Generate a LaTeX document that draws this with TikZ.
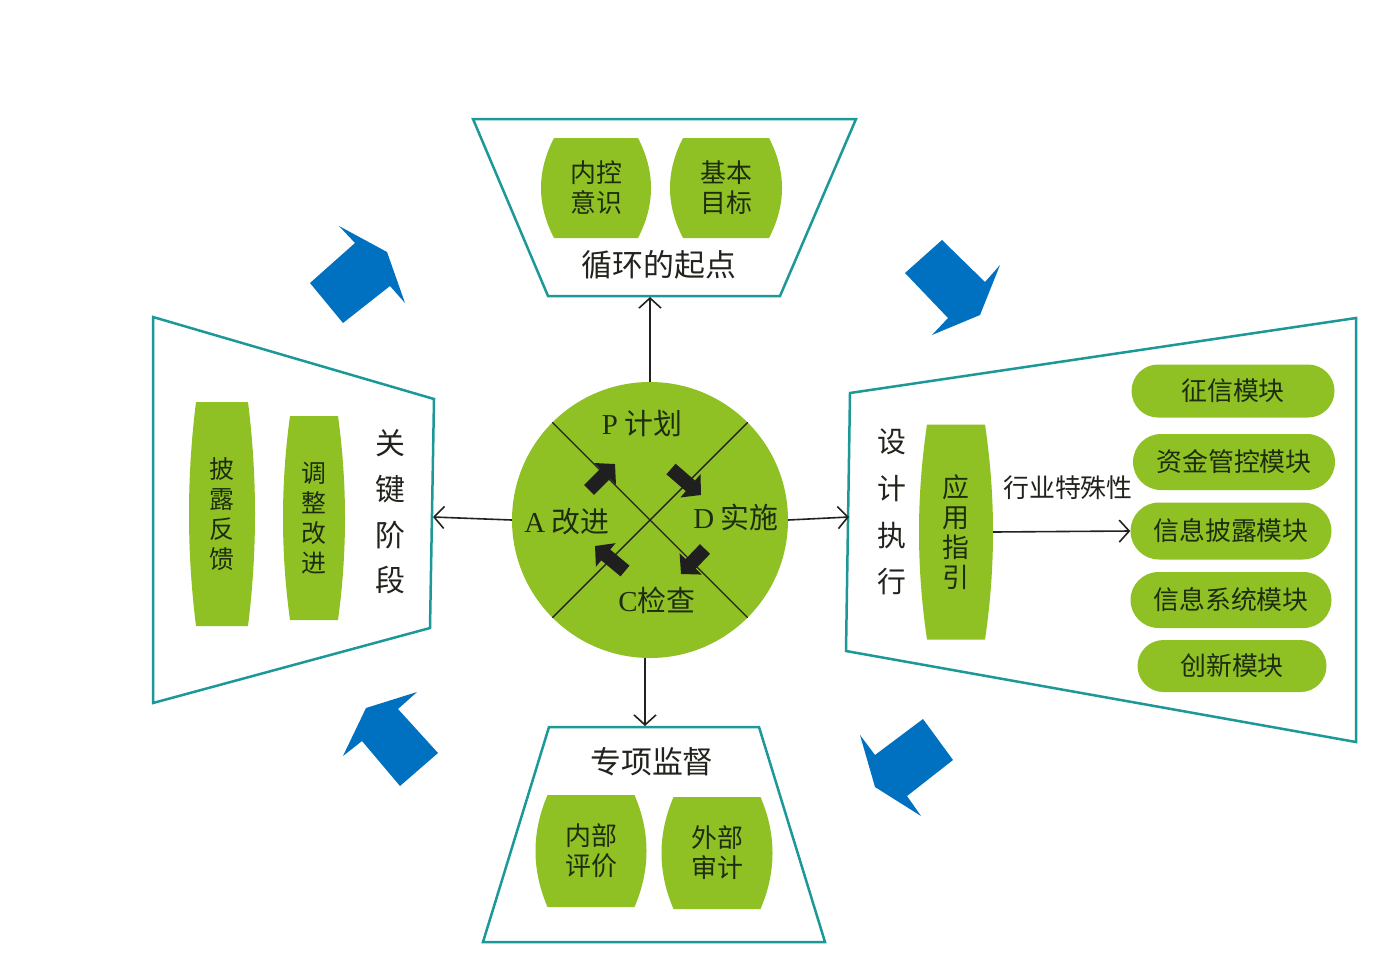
\documentclass[tikz,border=0pt]{standalone}
\usepackage{fontspec}
\setmainfont{Liberation Serif}
\newfontfamily\cjk{Noto Sans CJK SC}
\usetikzlibrary{shapes.misc,arrows.meta}
\definecolor{leaf}{RGB}{143,193,36}
\definecolor{teal2}{RGB}{28,152,152}
\definecolor{blueA}{RGB}{0,112,192}
\definecolor{ink}{RGB}{35,35,30}
\definecolor{ink2}{RGB}{30,45,15}
% #1 name, #2 cx, #3 cy, #4 w, #5 h, #6 bulge, #7 font size, #8 baselineskip, #9 text
\newcommand{\greenbarrel}[9]{%
  \fill[leaf] ({#2-#4/2+#6},{#3-#5/2}) -- ({#2+#4/2-#6},{#3-#5/2})
    .. controls ({#2+#4/2+#6/3},{#3-#5/6}) and ({#2+#4/2+#6/3},{#3+#5/6}) .. ({#2+#4/2-#6},{#3+#5/2})
    -- ({#2-#4/2+#6},{#3+#5/2})
    .. controls ({#2-#4/2-#6/3},{#3+#5/6}) and ({#2-#4/2-#6/3},{#3-#5/6}) .. cycle;
  \node[barreltext,minimum width=#4bp,minimum height=#5bp,font=\cjk\fontsize{#7}{#8}\selectfont] (#1) at (#2,#3) {#9};
}
\begin{document}
\begin{tikzpicture}[x=1bp,y=-1bp,
  trap/.style={draw=teal2,line width=2.5bp,line join=miter},
  barreltext/.style={inner sep=0pt,text=ink2,align=center},
  pill/.style={shape=rounded rectangle,fill=leaf,inner sep=0pt,text=ink2,font=\cjk\fontsize{26}{30}\selectfont},
  conn/.style={draw=ink,line width=1.6bp,-{Straight Barb[length=10bp,width=22bp]}},
  fat/.style={draw=black!88,line width=14bp,-{Triangle[length=14bp,width=30bp]}},
  blk/.style={fill=blueA},
  lbl/.style={text=ink,font=\cjk\fontsize{31}{36}\selectfont,align=center},
  vlbl/.style={text=ink,align=center},
  clbl/.style={text=ink2,font=\cjk\fontsize{29}{34}\selectfont},
]
\useasboundingbox (0,0) rectangle (1387,955);
\fill[white] (0,0) rectangle (1387,955);

% trapezoids
\draw[trap] (473,119) -- (856,119) -- (780,296) -- (548,296) -- cycle;
\draw[trap] (153,317) -- (434,399) -- (430,628) -- (153,703) -- cycle;
\draw[trap] (850,393) -- (1356,318) -- (1356,742) -- (846,651) -- cycle;
\draw[trap] (549,727) -- (759,727) -- (825,942) -- (483,942) -- cycle;
\coordinate (topB) at (650,297);
\coordinate (leftB) at (433,517);
\coordinate (rightB) at (849,517);
\coordinate (botB) at (645,726);

% blue block arrows
\fill[blk] (310,283) -- (355,243) -- (339,226) -- (387,252) -- (405,303) -- (390,286) -- (343,323) -- cycle;
\fill[blk] (905,273) -- (942,240) -- (985,282) -- (1000,265) -- (980,315) -- (932,335) -- (948,318) -- cycle;
\fill[blk] (343,756) -- (366,708) -- (417,692) -- (398,709) -- (438,753) -- (400,786) -- (362,741) -- cycle;
\fill[blk] (860,735) -- (875,755) -- (923,719) -- (953,760) -- (907,796) -- (921,816) -- (875,787) -- cycle;

% central circle
\node[circle,fill=leaf,minimum size=276bp,inner sep=0pt] (cyc) at (650,520) {};
\draw[ink,line width=1.4bp] (cyc.north west) -- (cyc.south east);
\draw[ink,line width=1.4bp] (cyc.north east) -- (cyc.south west);
\draw[fat] (589,490) -- (615,464);
\draw[fat] (671,469) -- (701,495);
\draw[fat] (705,549) -- (681,574);
\draw[fat] (625,571) -- (595,546);
\node[clbl] (pp) at (642,424) {{\rmfamily P} 计划};
\node[clbl] (dd) at (736,517) {{\rmfamily D} 实施};
\node[clbl] (cc) at (657,600) {{\rmfamily C}检查};
\node[clbl] (aa) at (567,522) {{\rmfamily A} 改进};

% connectors from circle
\draw[conn] (cyc.north) -- (topB);
\draw[conn] (cyc.west) -- (leftB);
\draw[conn] (cyc.east) -- (rightB);
\draw[conn] (cyc.south -| botB) -- (botB);

% top
\greenbarrel{nk}{596}{188}{110}{100}{13}{26}{30}{内控\\意识}
\greenbarrel{jb}{726}{188}{112}{100}{13}{26}{30}{基本\\目标}
\node[lbl] (qd) at (659,265) {循环的起点};

% left
\greenbarrel{pl}{222}{514}{66}{224}{7}{25}{30}{披\\露\\反\\馈}
\greenbarrel{tz}{314}{518}{62}{204}{7}{25}{30}{调\\整\\改\\进}
\node[vlbl,font=\cjk\fontsize{30}{46}\selectfont] (gj) at (390,512) {关\\键\\阶\\段};

% right
\node[vlbl,font=\cjk\fontsize{29}{47}\selectfont] (sj) at (892,512) {设\\计\\执\\行};
\greenbarrel{yy}{956}{532}{74}{215}{8}{27}{30}{应\\用\\指\\引}
\node[pill,minimum width=203bp,minimum height=53bp] (m1) at (1233,391) {征信模块};
\node[pill,minimum width=202bp,minimum height=56bp] (m2) at (1234,462) {资金管控模块};
\node[pill,minimum width=201bp,minimum height=57bp] (m3) at (1231,531) {信息披露模块};
\node[pill,minimum width=201bp,minimum height=56bp] (m4) at (1231,600) {信息系统模块};
\node[pill,minimum width=189bp,minimum height=52bp] (m5) at (1232,666) {创新模块};
\node[text=ink,font=\cjk\fontsize{26}{30}\selectfont] (hy) at (1068,488) {行业特殊性};
\draw[conn] (yy.east) -- (m3.west);

% bottom
\node[lbl] (zx) at (652,762) {专项监督};
\greenbarrel{nb}{591}{851}{111}{112}{12}{26}{30}{内部\\评价}
\greenbarrel{wb}{717}{853}{111}{112}{12}{26}{30}{外部\\审计}
\end{tikzpicture}
\end{document}
